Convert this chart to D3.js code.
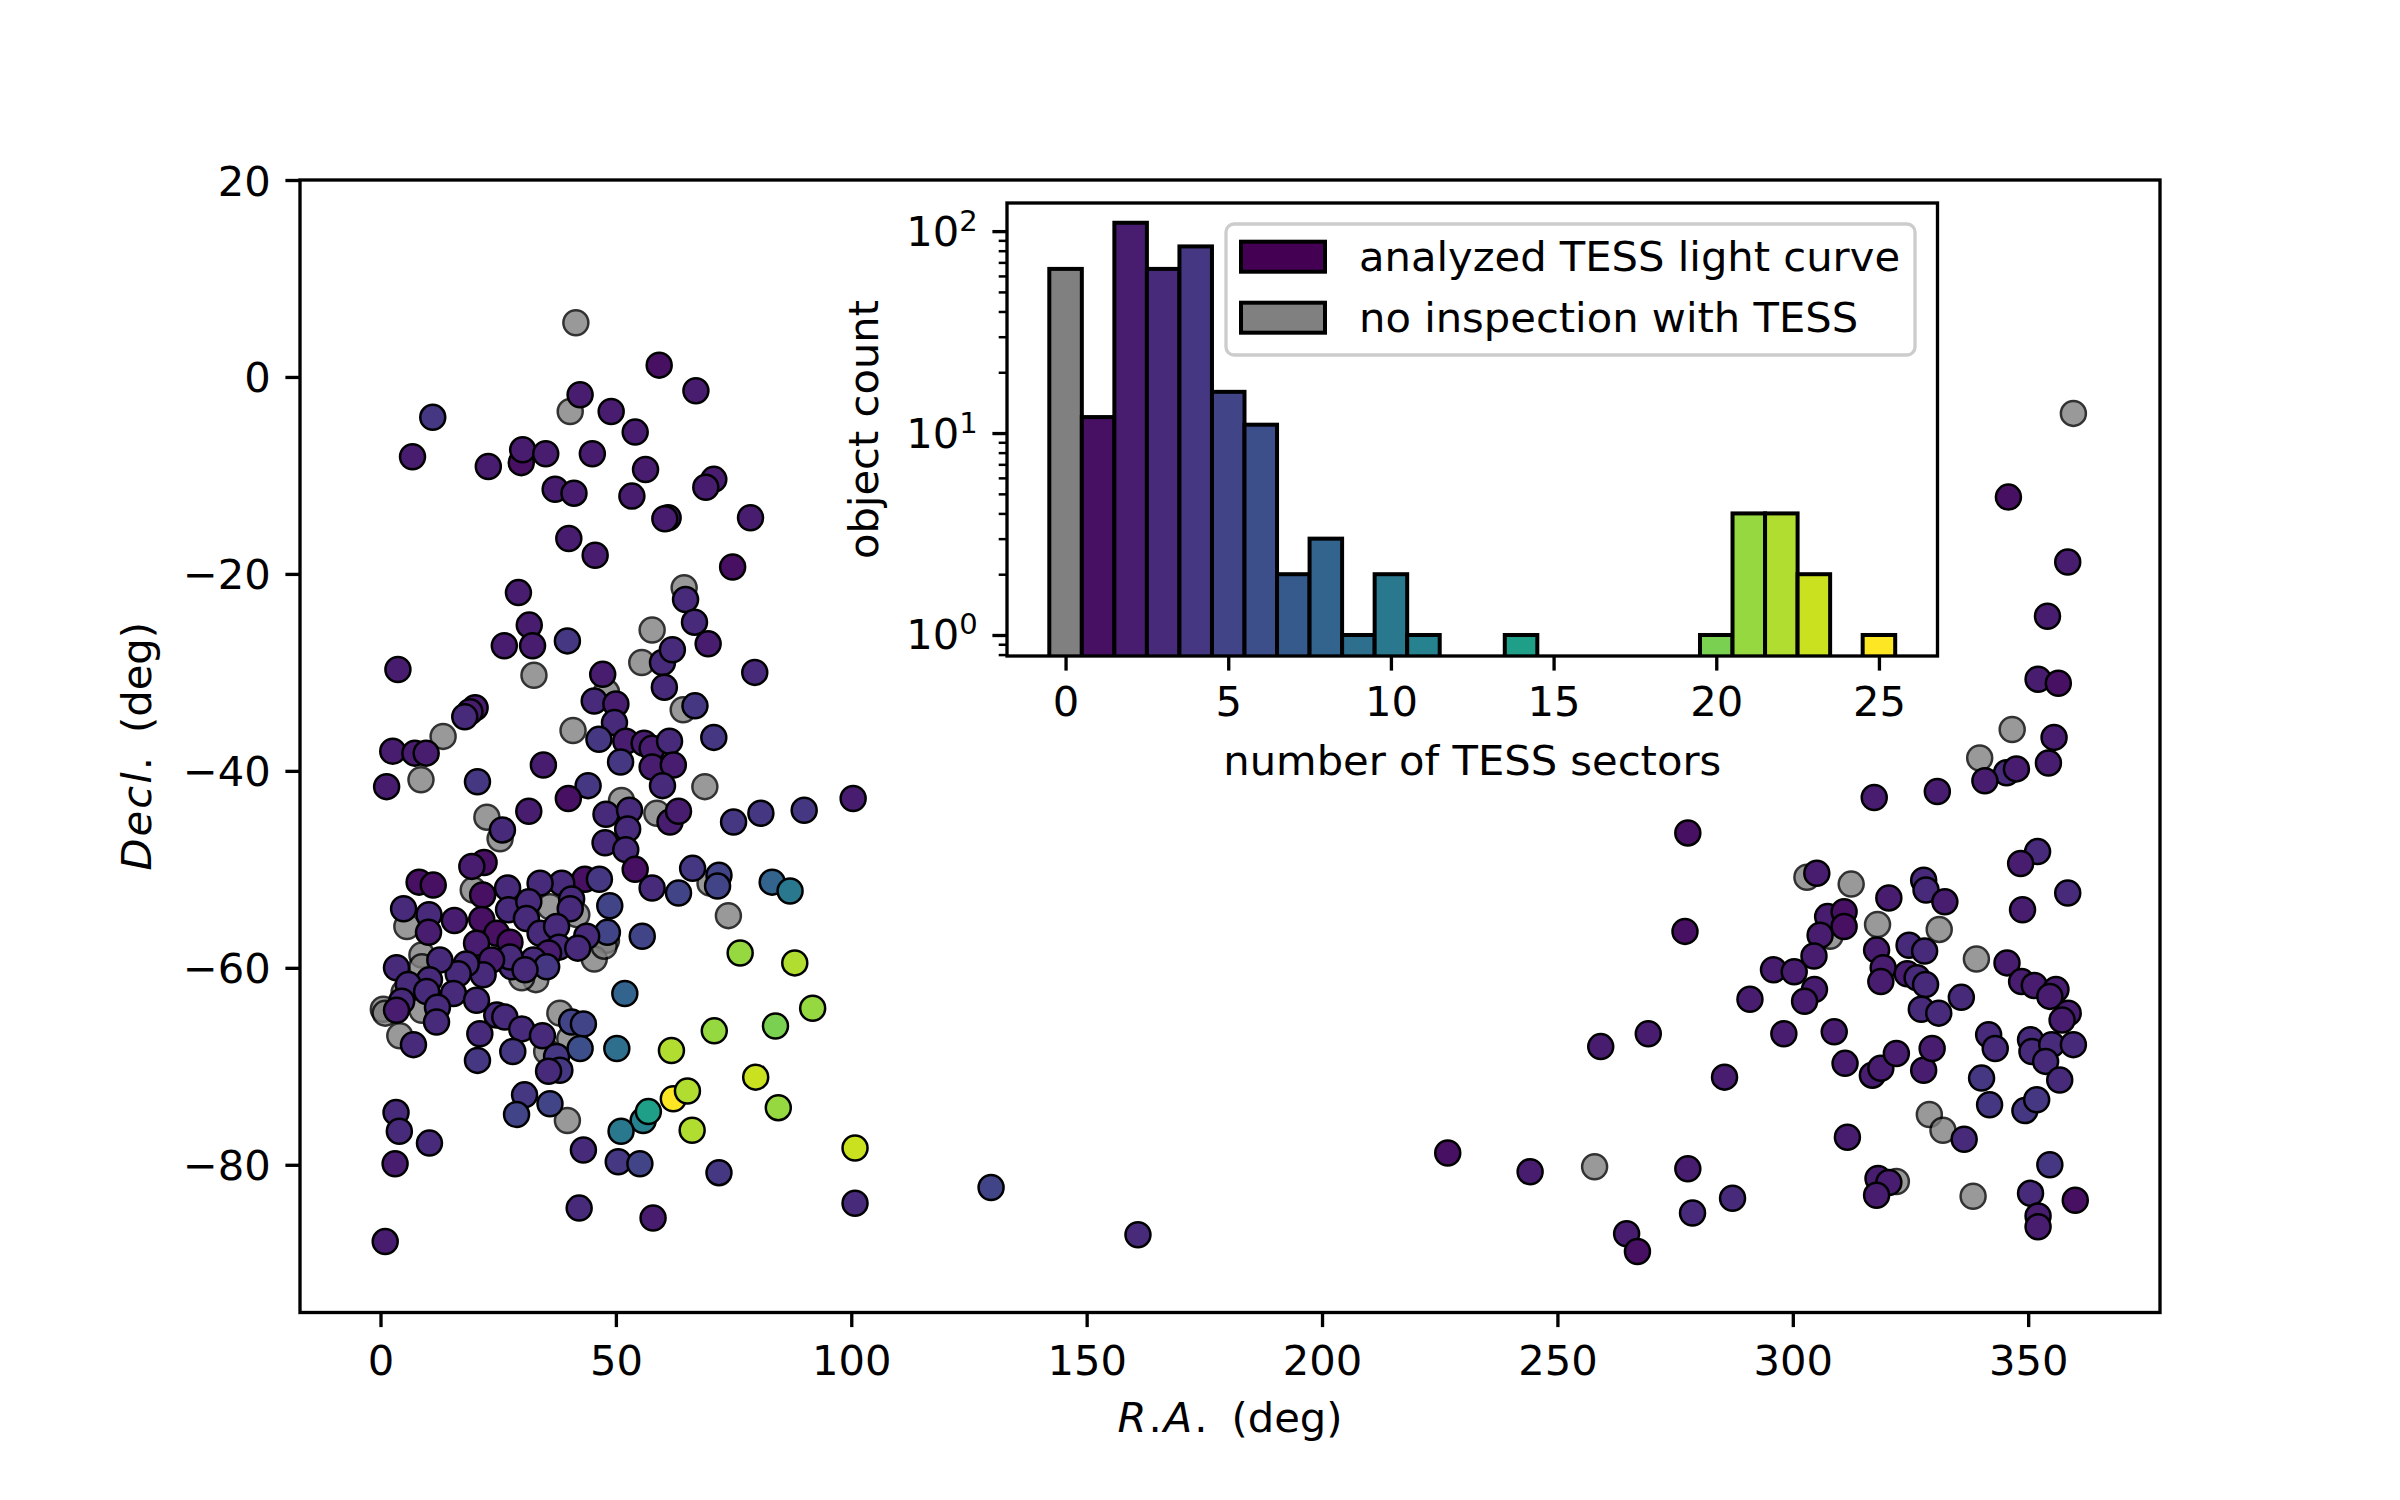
<!DOCTYPE html>
<html>
<head>
<meta charset="utf-8">
<script src="https://cdn.jsdelivr.net/npm/d3@7"></script>
<style>
	body { margin: 0; background: #fff; }
	text { font-family: 'DejaVu Sans', sans-serif; }
</style>
</head>
<body>
<svg id="chart" width="2400" height="1500"></svg>
<script>
var WIDTH = 2400;
var HEIGHT = 1500;

// analyzed objects: [R.A. deg, Decl. deg, number of TESS sectors]
var analyzedPoints = [
	[59.2,1.2,1],[67.0,-1.4,2],[42.4,-1.8,2],[49.0,-3.5,2],[54.1,-5.6,2],[11.1,-4.1,4],[6.8,-8.1,2],[22.9,-9.1,2],
	[29.9,-8.7,1],[30.2,-7.4,2],[35.1,-7.8,2],[45.0,-7.8,2],[37.1,-11.4,2],[41.1,-11.8,2],[56.3,-9.4,2],[53.4,-12.1,2],
	[70.8,-10.4,2],[69.1,-11.2,2],[61.1,-14.3,2],[60.4,-14.4,2],[78.6,-14.3,2],[40.0,-16.4,2],[45.6,-18.1,2],[74.8,-19.3,1],
	[29.3,-21.9,2],[64.8,-22.6,3],[31.6,-25.2,2],[66.7,-24.9,3],[26.3,-27.3,2],[32.3,-27.3,2],[39.7,-26.8,4],[69.6,-27.1,2],
	[3.7,-29.7,2],[59.9,-29.0,3],[62.0,-27.7,3],[79.5,-30.0,3],[47.2,-30.2,2],[60.3,-31.5,3],[66.8,-33.4,4],[45.4,-32.9,3],
	[50.0,-33.2,2],[49.7,-35.1,3],[20.1,-33.6,2],[19.0,-34.0,2],[17.9,-34.5,3],[2.6,-38.0,2],[7.3,-38.2,2],[9.7,-38.2,2],
	[46.4,-36.8,4],[52.1,-37.0,2],[56.0,-37.2,2],[57.7,-37.7,2],[61.4,-37.0,3],[70.8,-36.6,4],[51.0,-39.1,4],[57.7,-39.6,2],
	[62.2,-39.4,2],[34.6,-39.4,2],[1.3,-41.6,2],[20.6,-41.1,4],[44.1,-41.5,4],[59.9,-41.5,3],
	[100.4,-42.8,2],[39.9,-42.8,1],[31.5,-44.1,2],[25.9,-46.0,3],[47.9,-44.4,3],[52.9,-44.0,3],[61.5,-45.2,2],[63.3,-44.1,2],
	[52.5,-45.9,3],[47.7,-47.3,3],[52.1,-48.0,3],[54.1,-50.0,1],[57.7,-51.9,3],[63.3,-52.4,5],[66.3,-49.9,4],[71.9,-50.6,5],
	[71.6,-51.7,5],[75.0,-45.2,4],[80.8,-44.3,4],[90.0,-44.0,4],[83.2,-51.3,8],[87.0,-52.2,10],[76.4,-58.5,21],[88.0,-59.5,22],
	[91.8,-64.1,21],[83.9,-65.9,20],[70.9,-66.4,21],[61.8,-68.4,22],[79.7,-71.1,23],[62.2,-73.3,25],[65.2,-72.5,22],[84.5,-74.2,21],
	[66.2,-76.5,22],[55.8,-75.5,11],[56.9,-74.6,14],[51.1,-76.6,10],[51.9,-62.6,8],[50.2,-68.2,9],[55.6,-56.8,5],[48.7,-53.7,5],
	[48.2,-56.4,5],[43.4,-51.0,1],[46.5,-51.0,4],[38.5,-51.4,3],[33.9,-51.4,3],[27.0,-51.9,3],[21.7,-52.6,1],[22.0,-49.3,1],
	[19.4,-49.7,2],[8.2,-51.3,1],[11.2,-51.6,1],[4.9,-54.0,3],[10.3,-54.6,3],[10.2,-56.4,2],[15.7,-55.2,2],[21.5,-55.1,1],
	[24.7,-56.5,1],[27.5,-57.4,1],[20.4,-57.5,2],[27.2,-54.1,3],[31.5,-53.3,3],[40.6,-53.0,3],[40.3,-54.0,3],[31.0,-55.0,3],
	[33.9,-56.5,3],[37.4,-55.8,3],[43.8,-56.8,3],[37.9,-57.9,3],[41.9,-58.0,3],[35.7,-58.5,2],[32.5,-59.2,3],[35.3,-59.9,4],
	[27.9,-59.9,3],[27.5,-58.9,3],[30.7,-60.2,3],[23.6,-59.2,2],[21.8,-60.7,3],[18.2,-59.6,3],[16.5,-60.6,3],[12.6,-59.2,3],
	[3.4,-60.0,3],[10.4,-61.2,3],[5.9,-61.7,3],[9.8,-62.4,3],[15.5,-62.6,3],[20.4,-63.3,3],[4.5,-63.4,3],[3.4,-64.3,2],
	[12.1,-64.0,3],[11.9,-65.5,3],[24.7,-64.8,3],[26.4,-65.0,3],[30.0,-66.2,3],[34.4,-66.9,3],[40.6,-65.5,5],[43.1,-65.7,5],
	[21.1,-66.7,3],[7.0,-67.8,3],[20.6,-69.4,4],[28.1,-68.5,4],[37.4,-69.0,4],[42.4,-68.2,6],[38.1,-70.4,4],[35.7,-70.5,3],
	[30.6,-72.9,4],[28.9,-74.9,5],[36.0,-73.8,5],[3.3,-74.7,3],[4.0,-76.6,3],[10.4,-77.8,3],[3.1,-79.9,2],[1.0,-87.8,2],
	[43.1,-78.5,3],[50.5,-79.7,4],[55.1,-79.9,5],[71.9,-80.8,4],[42.2,-84.4,3],[57.9,-85.4,2],[100.8,-78.3,23],[100.8,-83.9,3],
	[129.7,-82.3,5],[160.9,-87.1,3],[226.7,-78.8,1],[244.2,-80.7,2],[259.2,-68.0,2],[269.3,-66.7,2],[264.7,-87.0,2],[267.0,-88.8,1],
	[277.7,-46.3,1],[277.1,-56.3,1],[277.7,-80.4,2],[278.7,-84.9,3],[285.5,-71.1,2],[287.2,-83.4,3],
	[345.8,-12.2,1],[358.4,-18.8,2],[354.1,-24.3,2],[352.1,-30.7,2],[356.4,-31.1,1],[355.5,-36.6,2],[354.3,-39.2,2],[345.4,-40.2,3],
	[347.5,-39.8,2],[340.8,-41.0,2],[330.7,-42.1,2],[317.3,-42.7,2],[352.0,-48.2,3],[348.4,-49.4,2],[358.4,-52.4,3],[348.8,-54.1,2],
	[305.1,-50.4,2],[320.4,-52.9,2],[327.8,-51.1,3],[328.3,-52.1,3],[332.3,-53.3,2],[307.4,-54.8,2],[310.9,-54.3,1],[310.9,-55.8,1],
	[305.8,-56.7,2],[304.5,-58.8,2],[317.8,-58.2,2],[324.7,-57.7,3],[328.0,-58.3,3],[295.9,-60.2,2],[300.3,-60.4,2],[304.6,-62.2,2],
	[302.5,-63.4,2],[290.9,-63.2,2],[319.2,-60.0,2],[318.7,-61.4,2],[324.3,-60.6,2],[326.4,-61.0,3],[328.2,-61.7,3],[327.3,-64.2,3],
	[331.0,-64.6,3],[335.8,-63.0,3],[345.5,-59.5,2],[348.6,-61.4,2],[351.3,-61.8,2],[355.9,-62.2,2],[354.6,-62.9,2],[358.5,-64.6,2],
	[357.2,-65.3,2],[341.6,-66.8,3],[343.0,-68.2,3],[350.5,-67.3,3],[350.8,-68.5,3],[355.0,-67.8,3],[359.6,-67.8,3],[353.7,-69.5,3],
	[356.7,-71.4,3],[340.1,-71.2,4],[341.8,-73.9,4],[349.3,-74.5,4],[351.8,-73.4,4],[298.1,-66.7,2],[308.8,-66.5,2],[311.1,-69.7,2],
	[316.9,-70.9,2],[318.7,-70.2,2],[322.0,-68.7,2],[327.8,-70.4,2],[329.6,-68.2,2],[336.4,-77.4,3],[311.6,-77.2,2],[354.6,-80.0,4],
	[318.1,-81.4,2],[320.4,-81.8,2],[317.8,-83.1,2],[350.5,-82.9,3],[352.1,-85.2,2],[352.1,-86.3,2],[360.0,-83.6,1]
];

// objects never inspected with TESS: [R.A. deg, Decl. deg]
var noInspectionPoints = [
	[41.5,5.5],[40.3,-3.5],[64.5,-21.4],[57.7,-25.7],[32.6,-30.3],[55.5,-29.0],[64.3,-33.8],[48.0,-32.0],
	[13.3,-36.5],[40.9,-35.9],[8.6,-40.9],[68.9,-41.6],[22.6,-44.7],[25.4,-46.9],[51.2,-43.0],[58.7,-44.3],
	[70.0,-51.4],[73.9,-54.7],[48.0,-57.2],[45.4,-59.1],[19.7,-52.1],[5.6,-55.8],[36.0,-53.8],[41.7,-54.6],
	[33.0,-61.2],[8.8,-58.7],[8.8,-59.9],[0.6,-64.2],[1.0,-64.6],[8.8,-64.3],[38.1,-64.6],[4.1,-66.9],
	[35.3,-68.5],[39.7,-75.5],[5.0,-62.5],[40.2,-67.2],[30.0,-61.0],[47.5,-57.8],
	[359.6,-3.7],[346.6,-35.8],[339.7,-38.7],[303.0,-50.8],[312.4,-51.5],[307.9,-56.8],[318.0,-55.6],[331.1,-56.1],
	[339.0,-59.1],[329.0,-74.9],[331.9,-76.5],[322.0,-81.7],[338.3,-83.2],[257.9,-80.2]
];

// inset histogram
var histSectors = [1, 2, 3, 4, 5, 6, 7, 8, 9, 10, 11, 14, 20, 21, 22, 23, 25];
var histCounts = [12, 110, 65, 84, 16, 11, 2, 3, 1, 2, 1, 1, 1, 4, 4, 2, 1];
var noInspectionCount = 65;

var xTicks = [0, 50, 100, 150, 200, 250, 300, 350];
var yTicks = [-80, -60, -40, -20, 0, 20];
var insetXTicks = [0, 5, 10, 15, 20, 25];
var insetYTicks = [1, 10, 100];
var insetYMinor = [0.8, 0.9, 2, 3, 4, 5, 6, 7, 8, 9, 20, 30, 40, 50, 60, 70, 80, 90];
var legendLabels = ['analyzed TESS light curve', 'no inspection with TESS'];

var FONT = 41.67;
var TICK = 14.6;
var LW = 3.33;

function sectorColor(n) {
	return d3.interpolateViridis(n/25);
}

function styleAxis(g) {
	g.attr('font-family', null).attr('font-size', null);
	g.select('.domain').remove();
	g.selectAll('.tick line').attr('stroke', '#000').attr('stroke-width', LW);
	g.selectAll('.tick text').attr('fill', '#000').attr('font-size', FONT);
}

// mathtext-like label: italic letters, upright dots, then a plain unit
function mathLabel(text, letters, unit) {
	letters.forEach(function(ch, i) {
		var italic = ch !== '.';
		text.append('tspan')
			.attr('font-style', italic ? 'italic' : 'normal')
			.attr('dx', i === 0 ? 0 : 2)
			.text(ch);
	});
	text.append('tspan').attr('dx', 24).text(unit);
}

function drawMain(svg) {
	var box = {left: 300, right: 2160, top: 180, bottom: 1312.5};

	var x = d3.scaleLinear().domain([-17.1, 378.0]).range([box.left, box.right]);
	var y = d3.scaleLinear().domain([-95, 20]).range([box.bottom, box.top]);

	svg.append('clipPath').attr('id', 'mainclip')
		.append('rect')
		.attr('x', box.left).attr('y', box.top)
		.attr('width', box.right-box.left).attr('height', box.bottom-box.top);

	var pts = svg.append('g').attr('clip-path', 'url(#mainclip)');

	pts.selectAll('circle.none')
		.data(noInspectionPoints)
		.enter().append('circle')
		.attr('class', 'none')
		.attr('cx', function(d) { return x(d[0]); })
		.attr('cy', function(d) { return y(d[1]); })
		.attr('r', 12.5)
		.attr('fill', '#808080')
		.attr('stroke', '#000')
		.attr('stroke-width', 2.5)
		.attr('opacity', 0.8);

	pts.selectAll('circle.done')
		.data(analyzedPoints)
		.enter().append('circle')
		.attr('class', 'done')
		.attr('cx', function(d) { return x(d[0]); })
		.attr('cy', function(d) { return y(d[1]); })
		.attr('r', 12.5)
		.attr('fill', function(d) { return sectorColor(d[2]); })
		.attr('stroke', '#000')
		.attr('stroke-width', 2.5);

	svg.append('g')
		.attr('transform', 'translate(0,'+box.bottom+')')
		.call(d3.axisBottom(x).tickValues(xTicks).tickSize(TICK).tickSizeOuter(0))
		.call(styleAxis)
		.selectAll('.tick text').attr('y', 62.5).attr('dy', null);

	svg.append('g')
		.attr('transform', 'translate('+box.left+',0)')
		.call(d3.axisLeft(y).tickValues(yTicks).tickSize(TICK).tickSizeOuter(0))
		.call(styleAxis)
		.selectAll('.tick text').attr('x', -2*TICK).attr('dy', '0.36em');

	svg.append('rect')
		.attr('x', box.left).attr('y', box.top)
		.attr('width', box.right-box.left).attr('height', box.bottom-box.top)
		.attr('fill', 'none')
		.attr('stroke', '#000')
		.attr('stroke-width', LW);

	var xl = svg.append('text')
		.attr('x', (box.left+box.right)/2)
		.attr('y', 1432)
		.attr('text-anchor', 'middle')
		.attr('font-size', FONT);
	mathLabel(xl, ['R', '.', 'A', '.'], '(deg)');

	var yl = svg.append('text')
		.attr('transform', 'translate(151,'+(box.top+box.bottom)/2+') rotate(-90)')
		.attr('text-anchor', 'middle')
		.attr('font-size', FONT);
	mathLabel(yl, ['D', 'e', 'c', 'l', '.'], '(deg)');
}

function drawInset(svg) {
	var box = {left: 1007, right: 1937.5, top: 203, bottom: 656};

	var x = d3.scaleLinear().domain([-1.8, 26.8]).range([box.left, box.right]);
	var y = d3.scaleLog().domain([0.787, 137.8]).range([box.bottom, box.top]);

	svg.append('rect')
		.attr('x', box.left).attr('y', box.top)
		.attr('width', box.right-box.left).attr('height', box.bottom-box.top)
		.attr('fill', '#fff');

	svg.append('clipPath').attr('id', 'insetclip')
		.append('rect')
		.attr('x', box.left).attr('y', box.top)
		.attr('width', box.right-box.left).attr('height', box.bottom-box.top);

	var bars = svg.append('g').attr('clip-path', 'url(#insetclip)');

	var barData = [{s: 0, c: noInspectionCount, fill: '#808080'}];
	histSectors.forEach(function(s, i) {
		barData.push({s: s, c: histCounts[i], fill: sectorColor(s)});
	});

	bars.selectAll('rect')
		.data(barData)
		.enter().append('rect')
		.attr('x', function(d) { return x(d.s-0.5); })
		.attr('width', function(d) { return x(d.s+0.5)-x(d.s-0.5); })
		.attr('y', function(d) { return y(d.c); })
		.attr('height', function(d) { return box.bottom-y(d.c)+20; })
		.attr('fill', function(d) { return d.fill; })
		.attr('stroke', '#000')
		.attr('stroke-width', 4);

	svg.append('g')
		.attr('transform', 'translate(0,'+box.bottom+')')
		.call(d3.axisBottom(x).tickValues(insetXTicks).tickSize(TICK).tickSizeOuter(0))
		.call(styleAxis)
		.selectAll('.tick text').attr('y', 60).attr('dy', null);

	var minor = svg.append('g')
		.attr('transform', 'translate('+box.left+',0)')
		.call(d3.axisLeft(y).tickValues(insetYMinor).tickSize(8.3).tickSizeOuter(0).tickFormat(''))
		.call(styleAxis);
	minor.selectAll('.tick line').attr('stroke-width', 2.5);

	var major = svg.append('g')
		.attr('transform', 'translate('+box.left+',0)')
		.call(d3.axisLeft(y).tickValues(insetYTicks).tickSize(TICK).tickSizeOuter(0).tickFormat(''))
		.call(styleAxis);

	major.selectAll('.tick').each(function(d) {
		var t = d3.select(this).append('text')
			.attr('x', -2*TICK)
			.attr('y', 14)
			.attr('text-anchor', 'end')
			.attr('font-size', FONT)
			.attr('fill', '#000');
		t.append('tspan').text('10');
		t.append('tspan').attr('dy', -15).attr('font-size', 29).text(Math.round(Math.log10(d)));
	});

	svg.append('rect')
		.attr('x', box.left).attr('y', box.top)
		.attr('width', box.right-box.left).attr('height', box.bottom-box.top)
		.attr('fill', 'none')
		.attr('stroke', '#000')
		.attr('stroke-width', LW);

	svg.append('text')
		.attr('x', (box.left+box.right)/2)
		.attr('y', 775)
		.attr('text-anchor', 'middle')
		.attr('font-size', FONT)
		.text('number of TESS sectors');

	svg.append('text')
		.attr('transform', 'translate(878,'+(box.top+box.bottom)/2+') rotate(-90)')
		.attr('text-anchor', 'middle')
		.attr('font-size', FONT)
		.text('object count');

	// legend
	var lg = svg.append('g');
	lg.append('rect')
		.attr('x', 1226).attr('y', 224)
		.attr('width', 689).attr('height', 131)
		.attr('rx', 8).attr('ry', 8)
		.attr('fill', '#fff').attr('fill-opacity', 0.8)
		.attr('stroke', '#ccc')
		.attr('stroke-width', LW);

	var swatches = ['#440154', '#808080'];
	legendLabels.forEach(function(label, i) {
		var cy = 256.7+i*61;
		lg.append('rect')
			.attr('x', 1241).attr('y', cy-15)
			.attr('width', 84).attr('height', 30)
			.attr('fill', swatches[i])
			.attr('stroke', '#000')
			.attr('stroke-width', 4);
		lg.append('text')
			.attr('x', 1359).attr('y', cy+14)
			.attr('font-size', FONT)
			.text(label);
	});
}

function init() {
	var svg = d3.select('#chart');

	svg.append('rect')
		.attr('width', WIDTH).attr('height', HEIGHT)
		.attr('fill', '#fff');

	drawMain(svg);
	drawInset(svg);
}

init();
</script>
</body>
</html>
